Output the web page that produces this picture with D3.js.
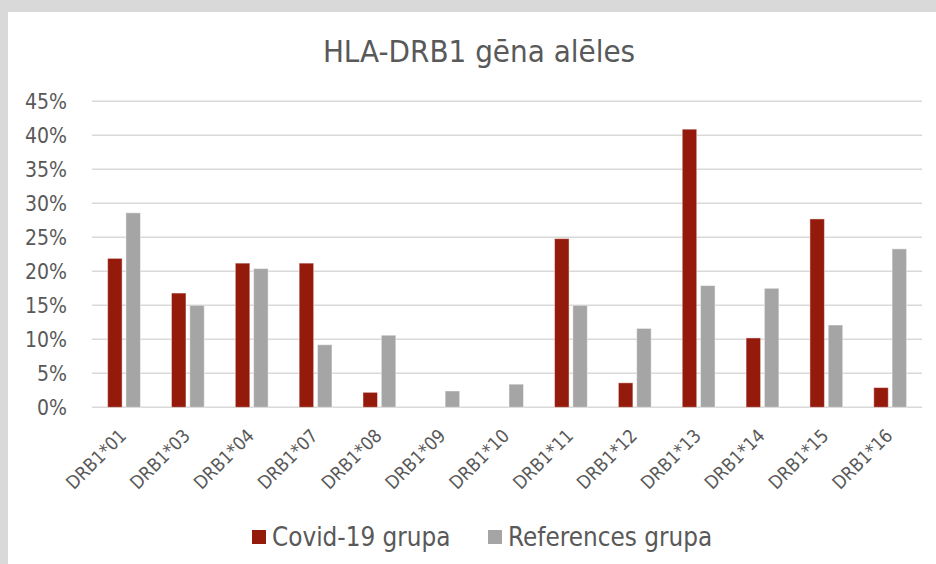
<!DOCTYPE html>
<html>
<head>
<meta charset="utf-8">
<script src="https://cdn.jsdelivr.net/npm/d3@7"></script>
<style>
  body { margin: 0; background: #d9d9d9; }
  svg text { font-family: "DejaVu Sans Condensed", "DejaVu Sans", sans-serif; fill: #595959; }
</style>
</head>
<body>
<div id="chart"></div>
<script>
// allele names on the x axis
var alleles = ["DRB1*01", "DRB1*03", "DRB1*04", "DRB1*07", "DRB1*08", "DRB1*09", "DRB1*10",
               "DRB1*11", "DRB1*12", "DRB1*13", "DRB1*14", "DRB1*15", "DRB1*16"];
// percent values
var covid = [21.9, 16.8, 21.2, 21.2, 2.2, 0, 0, 24.8, 3.6, 40.9, 10.2, 27.7, 2.9];
var reference = [28.6, 15.0, 20.4, 9.2, 10.6, 2.4, 3.4, 15.0, 11.6, 17.9, 17.5, 12.1, 23.3];
var seriesNames = ["Covid-19 grupa", "References grupa"];
var yTicks = [0, 5, 10, 15, 20, 25, 30, 35, 40, 45];

function init(){
  var W = 936, H = 564;
  var left = 92, right = 922, top = 101.3, bottom = 407.3;

  var svg = d3.select("#chart").append("svg")
      .attr("width", W).attr("height", H);

  // white card on the grey frame
  svg.append("rect").attr("x", 8).attr("y", 12)
    .attr("width", W - 8).attr("height", H - 12).attr("fill", "#fff");

  var x = d3.scaleBand().domain(alleles).range([left, right]);
  var y = d3.scaleLinear().domain([0, 45]).range([bottom, top]);
  var color = d3.scaleOrdinal().domain(seriesNames).range(["#941a0b", "#a5a5a5"]);

  // gridlines
  svg.append("g").selectAll("line").data(yTicks).enter().append("line")
    .attr("x1", left).attr("x2", right)
    .attr("y1", function(d){ return y(d); }).attr("y2", function(d){ return y(d); })
    .attr("stroke", "#d9d9d9").attr("stroke-width", 1.5);

  // y labels
  svg.append("g").selectAll("text").data(yTicks).enter().append("text")
    .attr("x", 67).attr("y", function(d){ return y(d); })
    .attr("dy", "0.36em")
    .attr("text-anchor", "end")
    .style("font-size", "21px")
    .text(function(d){ return d + "%"; });

  // bars (zero values are hidden, index kept)
  var barW = 14.5;
  var offsets = [-16.3, 2];
  var groups = [covid, reference];
  groups.forEach(function(vals, s){
    svg.append("g").selectAll("rect").data(vals).enter().append("rect")
      .attr("display", function(d){ return d > 0 ? null : "none"; })
      .attr("x", function(d, i){ return x(alleles[i]) + x.bandwidth() / 2 + offsets[s]; })
      .attr("y", function(d){ return y(d); })
      .attr("width", barW)
      .attr("height", function(d){ return bottom - y(d); })
      .attr("fill", color(seriesNames[s]))
      .attr("stroke", "#fff").attr("stroke-opacity", 0.45).attr("stroke-width", 1);
  });

  // x labels rotated
  svg.append("g").selectAll("text").data(alleles).enter().append("text")
    .attr("transform", function(d){
      return "translate(" + (x(d) + x.bandwidth() / 2 - 1) + "," + (bottom + 25) + ") rotate(-45)";
    })
    .attr("text-anchor", "end")
    .attr("dy", "0.35em")
    .style("font-size", "18.5px")
    .text(function(d){ return d; });

  // title
  svg.append("text")
    .attr("x", 479).attr("y", 62)
    .attr("text-anchor", "middle")
    .style("font-size", "31px")
    .text("HLA-DRB1 gēna alēles");

  // legend
  var legX = [252, 488];
  seriesNames.forEach(function(name, i){
    svg.append("rect").attr("x", legX[i]).attr("y", 530)
      .attr("width", 14).attr("height", 14).attr("fill", color(name));
    svg.append("text").attr("x", legX[i] + 20).attr("y", 537)
      .attr("dy", "0.36em")
      .style("font-size", "25.8px")
      .text(name);
  });
}
window.onload = init;
</script>
</body>
</html>
